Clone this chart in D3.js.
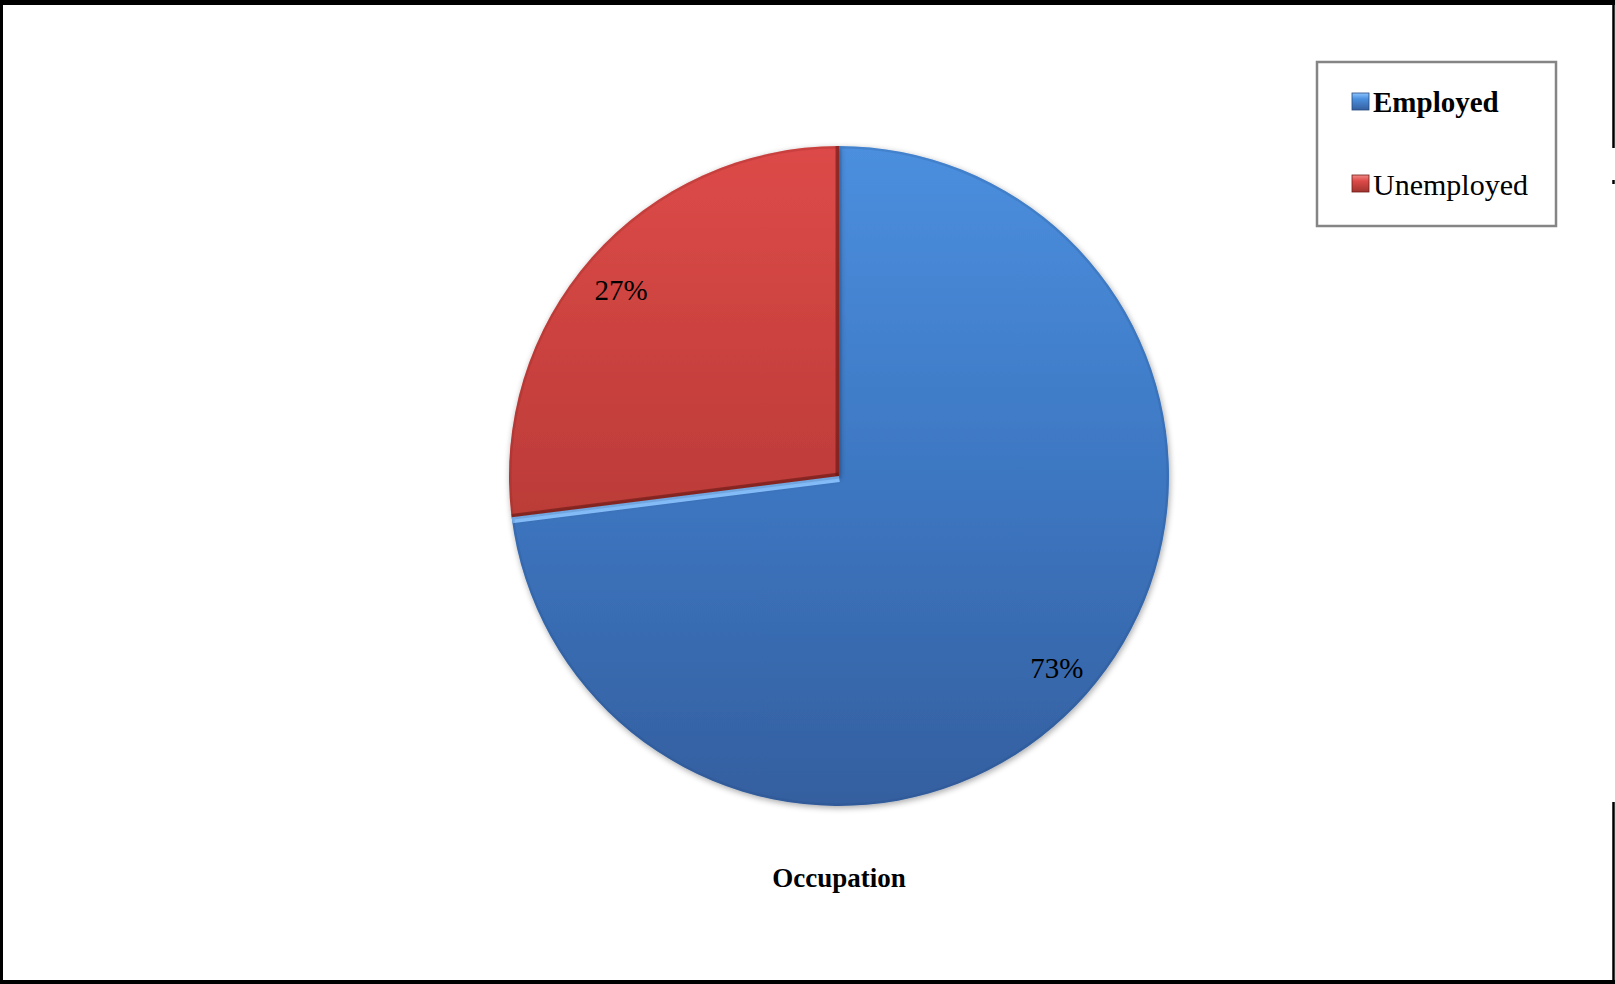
<!DOCTYPE html>
<html>
<head>
<meta charset="utf-8">
<script src="https://cdn.jsdelivr.net/npm/d3@7/dist/d3.min.js"></script>
<style>
  html, body { margin: 0; padding: 0; background: #fff; }
  svg { display: block; }
</style>
</head>
<body>
<script>
// Occupation breakdown (percent of respondents)
const categories = ["Employed", "Unemployed"];
const values = [73, 27];
const labels = ["73%", "27%"];
const title = "Occupation";

const W = 1615, H = 984;
const cx = 839, cy = 476, R = 330;

const svg = d3.select("body").append("svg").attr("width", W).attr("height", H);
const defs = svg.append("defs");

// Slice gradients: lighter at top, darker at bottom (local coords, centred on the pie)
const palettes = {
  Employed:   { top: "#4b8fde", mid: "#3d77c2", bottom: "#345f9f", edge: "#8cc4ff", edgeOp: 0.9, edgeW: 12, edges: ["end"], light: "#8cc4ff", dark: "#24497e" },
  Unemployed: { top: "#dd4a48", mid: "#bf3d3a", bottom: "#a0332e", edge: "#5e1612", edgeOp: 0.55, edgeW: 7, edges: ["start", "end"], light: "#f08a86", dark: "#6e1c18" }
};
categories.forEach((c, i) => {
  const g = defs.append("linearGradient").attr("id", "fill" + i)
    .attr("gradientUnits", "userSpaceOnUse")
    .attr("x1", 0).attr("y1", -R).attr("x2", 0).attr("y2", R);
  g.append("stop").attr("offset", 0).attr("stop-color", palettes[c].top);
  g.append("stop").attr("offset", 0.5).attr("stop-color", palettes[c].mid);
  g.append("stop").attr("offset", 1).attr("stop-color", palettes[c].bottom);
});

// Soft halo around the pie
const shadow = defs.append("filter").attr("id", "halo")
  .attr("x", "-10%").attr("y", "-10%").attr("width", "120%").attr("height", "120%");
shadow.append("feGaussianBlur").attr("in", "SourceAlpha").attr("stdDeviation", 3).attr("result", "b");
shadow.append("feOffset").attr("in", "b").attr("dx", 1).attr("dy", 2).attr("result", "o");
shadow.append("feComponentTransfer").attr("in", "o").attr("result", "s")
  .append("feFuncA").attr("type", "linear").attr("slope", 0.35);
const merge = shadow.append("feMerge");
merge.append("feMergeNode").attr("in", "s");
merge.append("feMergeNode").attr("in", "SourceGraphic");

const pie = d3.pie().sort(null).value(d => d)(values);
const arc = d3.arc().innerRadius(0).outerRadius(R);

pie.forEach((p, i) => {
  defs.append("clipPath").attr("id", "clip" + i)
    .append("path").attr("d", arc(p));
});

const pieG = svg.append("g").attr("transform", `translate(${cx},${cy})`);

// Slices
pie.forEach((p, i) => {
  pieG.append("path")
    .attr("d", arc(p))
    .attr("fill", `url(#fill${i})`)
    .attr("filter", "url(#halo)");
});

// Bevelled radial edges, clipped inside each slice
pie.forEach((p, i) => {
  const pal = palettes[categories[i]];
  const g = pieG.append("g").attr("clip-path", `url(#clip${i})`);
  pal.edges.map(k => k === "start" ? p.startAngle : p.endAngle).forEach(a => {
    g.append("line")
      .attr("x1", 0).attr("y1", 0)
      .attr("x2", R * Math.sin(a)).attr("y2", -R * Math.cos(a))
      .attr("stroke", pal.edge)
      .attr("stroke-opacity", pal.edgeOp)
      .attr("stroke-width", pal.edgeW);
  });
  // faint rim shading
  g.append("path")
    .attr("d", arc(p))
    .attr("fill", "none")
    .attr("stroke", pal.dark)
    .attr("stroke-opacity", 0.18)
    .attr("stroke-width", 5);
});

// Percentage labels
const labelArc = d3.arc().innerRadius(R * 0.88).outerRadius(R * 0.88);
pie.forEach((p, i) => {
  const [x, y] = labelArc.centroid(p);
  svg.append("text")
    .attr("x", cx + x).attr("y", cy + y + (i === 1 ? 6 : 0))
    .attr("text-anchor", "middle")
    .attr("dominant-baseline", "central")
    .attr("font-family", "'Liberation Serif', 'Times New Roman', serif")
    .attr("font-size", 29)
    .attr("fill", "#000")
    .text(labels[i]);
});

// Title below the pie
svg.append("text")
  .attr("x", cx).attr("y", 887)
  .attr("text-anchor", "middle")
  .attr("font-family", "'Liberation Serif', 'Times New Roman', serif")
  .attr("font-weight", "bold")
  .attr("font-size", 27)
  .attr("fill", "#000")
  .text(title);

// Legend
const legend = svg.append("g");
legend.append("rect")
  .attr("x", 1317).attr("y", 62).attr("width", 239).attr("height", 164)
  .attr("fill", "#fff").attr("stroke", "#858585").attr("stroke-width", 2.5);

const legendY = d3.scalePoint().domain(categories).range([102, 184]);
categories.forEach((c, i) => {
  const y = legendY(c);
  const pal = palettes[c];
  const sg = defs.append("linearGradient").attr("id", "sw" + i)
    .attr("x1", 0).attr("y1", 0).attr("x2", 0).attr("y2", 1);
  sg.append("stop").attr("offset", 0).attr("stop-color", pal.light);
  sg.append("stop").attr("offset", 0.35).attr("stop-color", pal.top);
  sg.append("stop").attr("offset", 1).attr("stop-color", pal.bottom);
  legend.append("rect")
    .attr("x", 1352).attr("y", y - 9).attr("width", 17).attr("height", 17)
    .attr("fill", `url(#sw${i})`)
    .attr("stroke", pal.dark).attr("stroke-width", 0.8);
  legend.append("text")
    .attr("x", 1373).attr("y", y)
    .attr("dominant-baseline", "central")
    .attr("font-family", "'Liberation Serif', 'Times New Roman', serif")
    .attr("font-weight", i === 0 ? "bold" : "normal")
    .attr("font-size", i === 0 ? 29 : 30)
    .attr("fill", "#000")
    .text(c);
});

// Outer frame
const frame = svg.append("g").attr("stroke", "#000").attr("fill", "none");
frame.append("line").attr("x1", 0).attr("y1", 2.5).attr("x2", W).attr("y2", 2.5).attr("stroke-width", 5);
frame.append("line").attr("x1", 1.5).attr("y1", 0).attr("x2", 1.5).attr("y2", H).attr("stroke-width", 3);
frame.append("line").attr("x1", 0).attr("y1", 982).attr("x2", W).attr("y2", 982).attr("stroke-width", 4);
frame.append("line").attr("x1", 1613.5).attr("y1", 0).attr("x2", 1613.5).attr("y2", 148).attr("stroke-width", 2.5);
frame.append("line").attr("x1", 1613.5).attr("y1", 180).attr("x2", 1613.5).attr("y2", 184).attr("stroke-width", 2.5);
frame.append("line").attr("x1", 1613.5).attr("y1", 802).attr("x2", 1613.5).attr("y2", H).attr("stroke-width", 2.5);
</script>
</body>
</html>
